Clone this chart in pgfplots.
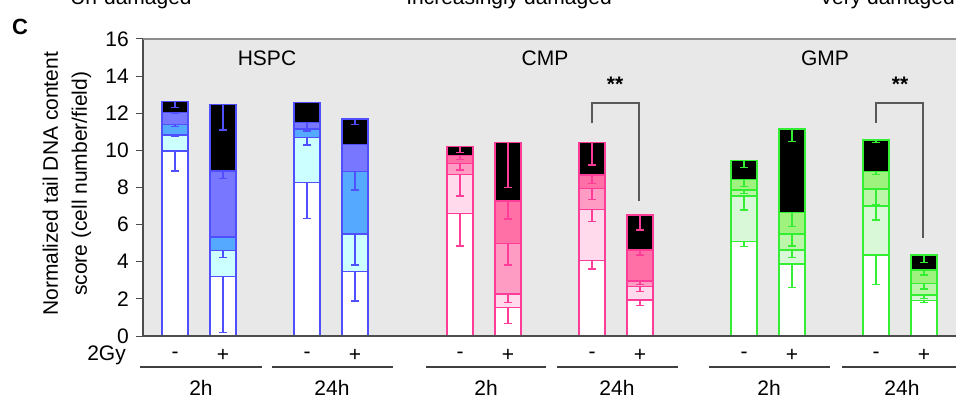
\documentclass[border=0pt]{standalone}
\usepackage{pgfplots}
\pgfplotsset{compat=1.18}
\usepackage{pgfplotstable}
\usepackage{fontspec}
\setmainfont{Liberation Sans}

\definecolor{hOut}{HTML}{4F4FFF}
\definecolor{hL}{HTML}{CCFFFF}
\definecolor{hM}{HTML}{55AAFF}
\definecolor{hD}{HTML}{7777FF}
\definecolor{cOut}{HTML}{FF3D99}
\definecolor{cL}{HTML}{FFD9EC}
\definecolor{cM}{HTML}{FF9CC4}
\definecolor{cD}{HTML}{FF70A6}
\definecolor{gOut}{HTML}{33EE33}
\definecolor{gL}{HTML}{D8F8D8}
\definecolor{gM}{HTML}{BDF5AA}
\definecolor{gD}{HTML}{A0F27F}
\definecolor{bg}{HTML}{E8E8E8}

% cumulative tops of the stacked segments (w=undamaged ... t=very damaged) and minus errors
\pgfplotstableread{
x w l m d t ew el em ed et
175 9.97 10.83 11.40 12.03 12.62 1.08 0.10 0.10 0.05 0.30
223 3.20 4.62 5.33 8.89 12.48 3.02 0.40 0.00 0.40 1.38
307 8.26 10.68 11.15 11.50 12.57 1.92 0.39 0.10 0.50 0.00
355 3.47 5.49 8.86 10.32 11.69 1.59 1.67 1.00 0.00 0.29
}\hspc
\pgfplotstableread{
x w l m d t ew el em ed et
460 6.61 8.71 9.30 9.71 10.20 1.76 1.17 0.35 0.20 0.32
508 1.54 2.26 4.99 7.27 10.42 0.86 0.46 1.17 0.97 2.42
592 4.06 6.82 7.95 8.67 10.43 0.45 0.66 0.60 0.46 1.22
640 1.94 2.66 2.96 4.63 6.52 0.31 0.27 0.20 0.27 0.81
}\cmp
\pgfplotstableread{
x w l m d t ew el em ed et
744 5.08 7.54 7.87 8.44 9.44 0.27 0.75 0.20 0.40 0.36
792 3.88 4.63 5.49 6.65 11.15 1.28 0.39 0.64 0.76 0.68
876 4.36 7.00 7.92 8.86 10.56 1.58 0.75 0.82 0.15 0.14
924 1.90 2.21 2.84 3.56 4.36 0.09 0.20 0.30 0.27 0.41
}\gmp

\newcommand{\seg}[4]{% table, outline, fill, column
\addplot[ybar, bar width=26, bar shift=0pt, draw=#2, line width=1.4bp, fill=#3] table[x=x,y=#4]{#1};}
\newcommand{\err}[4]{% table, colour, column, error column
\addplot[draw=none, mark=none, forget plot,
  error bars/.cd, y dir=minus, y explicit, error mark=|,
  error mark options={draw=#2, line width=1.3bp, mark size=4bp},
  error bar style={draw=#2, line width=1.3bp}]
  table[x=x, y=#3, y error minus=#4]{#1};}
\newcommand{\group}[5]{%
\seg{#1}{#2}{black}{t}
\seg{#1}{#2}{#5}{d}
\seg{#1}{#2}{#4}{m}
\seg{#1}{#2}{#3}{l}
\seg{#1}{#2}{white}{w}
\err{#1}{#2}{t}{et}
\err{#1}{#2}{d}{ed}
\err{#1}{#2}{m}{em}
\err{#1}{#2}{l}{el}
\err{#1}{#2}{w}{ew}}

\begin{document}
\fontsize{21bp}{25bp}\selectfont
\begin{tikzpicture}[x=1bp,y=1bp]
\begin{axis}[
 scale only axis, width=813bp, height=297bp,
 xmin=143, xmax=956, ymin=0, ymax=16,
 axis background/.style={fill=bg},
 axis line style={draw=none},
 ytick={0,2,...,16}, ytick pos=left, tick align=outside, major tick length=7bp,
 ytick style={draw=black!70, line width=1bp},
 xtick={175,223,307,355,460,508,592,640,744,792,876,924},
 xticklabels={-,+,-,+,-,+,-,+,-,+,-,+},
 xtick style={draw=none},
 xticklabel style={anchor=center, yshift=-12bp},
 /pgf/number format/assume math mode=true,
 ylabel={Normalized tail DNA content\\score (cell number/field)},
 ylabel style={at={(axis description cs:-0.0935,0.512)}, anchor=center, align=center, font=\fontsize{21bp}{29bp}\selectfont},
 clip=false,
]
\coordinate (SW) at (rel axis cs:0,0);
\group{\hspc}{hOut}{hL}{hM}{hD}
\group{\cmp}{cOut}{cL}{cM}{cD}
\group{\gmp}{gOut}{gL}{gM}{gD}

\draw[line width=1.6bp, black!65] (axis cs:592,11.47) -- (axis cs:592,12.55) -- (axis cs:639,12.55) -- (axis cs:639,7.27);
\draw[line width=1.6bp, black!65] (axis cs:876,11.47) -- (axis cs:876,12.55) -- (axis cs:923,12.55) -- (axis cs:923,5.28);
\node[font=\bfseries] at (axis cs:615,13.57) {**};
\node[font=\bfseries] at (axis cs:900,13.57) {**};
\node at (axis cs:267,14.98) {HSPC};
\node at (axis cs:545,14.98) {CMP};
\node at (axis cs:825,14.98) {GMP};

\draw[black!70, line width=1.5bp] (rel axis cs:0,0) -- (rel axis cs:0,1);
\draw[black!45, line width=2bp] (rel axis cs:0,1) -- (rel axis cs:1,1);
\draw[black!70, line width=2.5bp] (rel axis cs:0,0) -- (rel axis cs:1,0);
\end{axis}

\begin{scope}[shift={(SW)}, xshift=-143bp, yshift=-65bp]
\node[anchor=east] at (133,46) {2Gy};
\foreach \a/\b in {140/262,272/393,426/546,557/678,709/830,842/963}
  \draw[line width=1.8bp, black!75] (\a,34) -- (\b,34);
\node at (201,13) {2h};
\node at (332,13) {24h};
\node at (486,13) {2h};
\node at (617,13) {24h};
\node at (769,13) {2h};
\node at (902,13) {24h};
\node[font=\bfseries\fontsize{22bp}{26bp}\selectfont] at (20,374) {C};
\node[anchor=base] at (131,397) {Un-damaged};
\node[anchor=base] at (509,397) {Increasingly damaged};
\node[anchor=base] at (887,397) {Very damaged};
\pgfresetboundingbox
\path[use as bounding box] (0,0) rectangle (956,401);
\end{scope}
\end{tikzpicture}
\end{document}
